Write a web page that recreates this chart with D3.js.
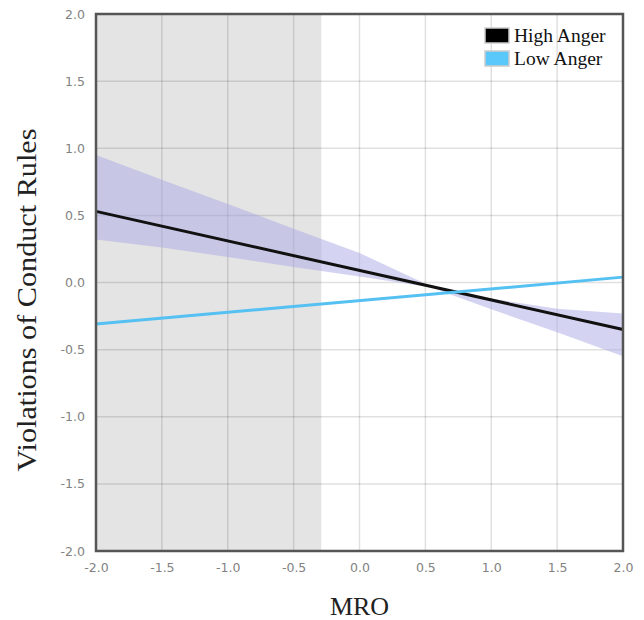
<!DOCTYPE html>
<html>
<head>
<meta charset="utf-8">
<script src="https://cdn.jsdelivr.net/npm/d3@7"></script>
<style>
  body { margin: 0; background: #fff; }
  .tick text { font-family: "DejaVu Sans", Verdana, sans-serif; font-size: 12.5px; fill: #828282; }
</style>
</head>
<body>
<div id="chart"></div>
<script>
// values
const mroValues = [-2, 2];
const highAnger = [0.53, -0.35];
const lowAnger = [-0.31, 0.04];

const bandX = [-2, -1.5, -1, -0.5, 0, 0.5, 0.55, 1, 1.5, 2];
const bandUpper = [0.95, 0.765, 0.585, 0.40, 0.22, -0.01, -0.03, -0.12, -0.195, -0.23];
const bandLower = [0.32, 0.26, 0.19, 0.115, 0.045, -0.03, -0.04, -0.20, -0.37, -0.55];

// region of significance (shaded)
const shadedFrom = -2;
const shadedTo = -0.29;

const xTicks = [-2, -1.5, -1, -0.5, 0, 0.5, 1, 1.5, 2];
const yTicks = [-2, -1.5, -1, -0.5, 0, 0.5, 1, 1.5, 2];

const legendNames = ['High Anger', 'Low Anger'];
const legendColors = ['#000000', '#5ac8fa'];

const width = 644, height = 620;
const margin = {top: 14, right: 21, bottom: 69, left: 96};

const svg = d3.select('#chart')
  .append('svg')
  .attr('width', width)
  .attr('height', height);

const x = d3.scaleLinear().domain([-2, 2]).range([margin.left, width - margin.right]);
const y = d3.scaleLinear().domain([-2, 2]).range([height - margin.bottom, margin.top]);
// plain hyphen for negatives, like the original
const fmt = d => d3.format('.1f')(d).replace('\u2212', '-');

// shaded region
svg.append('rect')
  .attr('x', x(shadedFrom))
  .attr('y', y(2))
  .attr('width', x(shadedTo) - x(shadedFrom))
  .attr('height', y(-2) - y(2))
  .attr('fill', '#e4e4e4');

// grid
svg.append('g')
  .selectAll('line')
  .data(xTicks.slice(1, -1))
  .join('line')
  .attr('x1', d => x(d)).attr('x2', d => x(d))
  .attr('y1', y(2)).attr('y2', y(-2))
  .attr('stroke', '#000').attr('stroke-opacity', 0.12).attr('stroke-width', 1.5);

svg.append('g')
  .selectAll('line')
  .data(yTicks.slice(1, -1))
  .join('line')
  .attr('x1', x(-2)).attr('x2', x(2))
  .attr('y1', d => y(d)).attr('y2', d => y(d))
  .attr('stroke', '#000').attr('stroke-opacity', 0.12).attr('stroke-width', 1.5);

// confidence band
const bandData = bandX.map((v, i) => ({x: v, lo: bandLower[i], hi: bandUpper[i]}));
svg.append('path')
  .datum(bandData)
  .attr('fill', '#aaaae6')
  .attr('fill-opacity', 0.5)
  .attr('d', d3.area().x(d => x(d.x)).y0(d => y(d.lo)).y1(d => y(d.hi)));

// lines
const line = d3.line().x(d => x(d[0])).y(d => y(d[1]));
svg.append('path')
  .datum(mroValues.map((v, i) => [v, highAnger[i]]))
  .attr('fill', 'none')
  .attr('stroke', '#111')
  .attr('stroke-width', 3)
  .attr('d', line);

svg.append('path')
  .datum(mroValues.map((v, i) => [v, lowAnger[i]]))
  .attr('fill', 'none')
  .attr('stroke', '#55c0f2')
  .attr('stroke-width', 3)
  .attr('d', line);

// axes (labels only)
svg.append('g')
  .attr('transform', `translate(0,${y(-2)})`)
  .call(d3.axisBottom(x).tickValues(xTicks).tickFormat(fmt).tickSize(0).tickPadding(12))
  .call(g => g.select('.domain').remove());

svg.append('g')
  .attr('transform', `translate(${x(-2)},0)`)
  .call(d3.axisLeft(y).tickValues(yTicks).tickFormat(fmt).tickSize(0).tickPadding(11))
  .call(g => g.select('.domain').remove());

// frame
svg.append('rect')
  .attr('x', x(-2)).attr('y', y(2))
  .attr('width', x(2) - x(-2)).attr('height', y(-2) - y(2))
  .attr('fill', 'none')
  .attr('stroke', '#555')
  .attr('stroke-width', 2.5);

// axis titles
svg.append('text')
  .attr('x', (x(-2) + x(2)) / 2)
  .attr('y', 615)
  .attr('text-anchor', 'middle')
  .style('font-family', '"Liberation Serif", "Times New Roman", serif')
  .style('font-size', '26px')
  .attr('fill', '#222')
  .text('MRO');

svg.append('text')
  .attr('transform', 'translate(36,300) rotate(-90)')
  .attr('text-anchor', 'middle')
  .style('font-family', '"Liberation Serif", "Times New Roman", serif')
  .style('font-size', '27px')
  .attr('textLength', 343)
  .attr('lengthAdjust', 'spacingAndGlyphs')
  .attr('fill', '#222')
  .text('Violations of Conduct Rules');

// legend
const legend = svg.append('g').attr('transform', 'translate(485,28)');
const items = legend.selectAll('g')
  .data(legendNames)
  .join('g')
  .attr('transform', (d, i) => `translate(0,${i * 23})`);

items.append('rect')
  .attr('width', 24).attr('height', 15)
  .attr('fill', (d, i) => legendColors[i])
  .attr('stroke', '#ccc')
  .attr('stroke-width', 1.5);

items.append('text')
  .attr('x', 29).attr('y', 14)
  .style('font-family', '"Liberation Serif", "Times New Roman", serif')
  .style('font-size', '19.5px')
  .attr('fill', '#111')
  .text(d => d);
</script>
</body>
</html>
